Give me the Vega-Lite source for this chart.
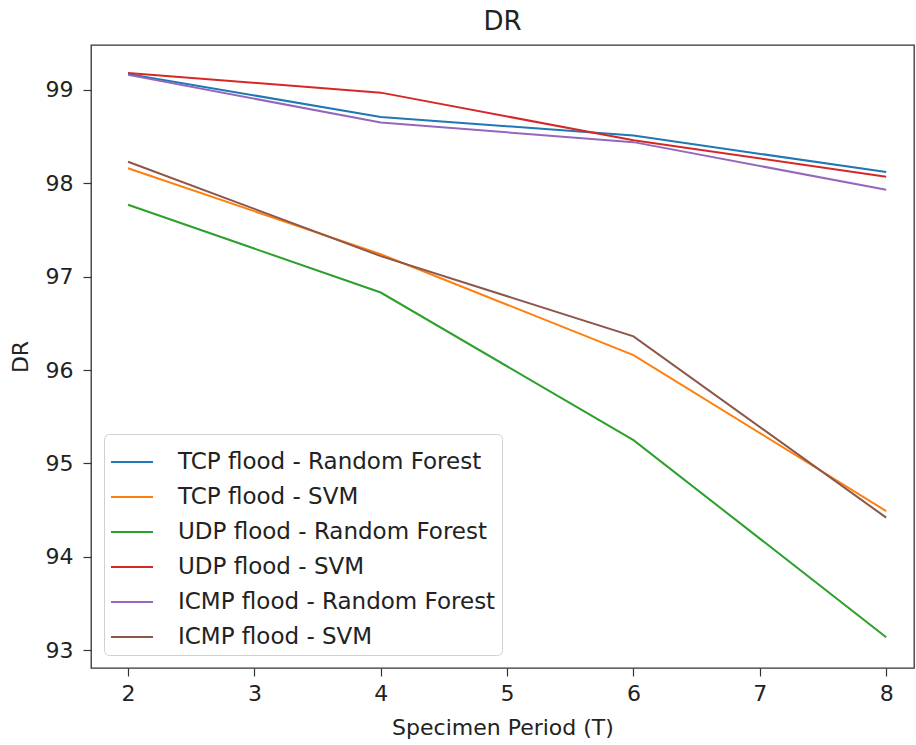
{
  "$schema": "https://vega.github.io/schema/vega-lite/v6.json",
  "width": 823,
  "height": 623,
  "autosize": "none",
  "padding": {"left": 91, "top": 45, "right": 2, "bottom": 77},
  "background": "white",
  "title": {"text": "DR", "fontSize": 26, "font": "DejaVu Sans", "fontWeight": "normal", "color": "#222", "offset": 10},
  "config": {
    "view": {"stroke": "#333", "strokeWidth": 1.3},
    "font": "DejaVu Sans",
    "axis": {"grid": false, "domain": false, "tickColor": "#333", "tickSize": 8, "tickWidth": 1.2, "labelFontSize": 22, "labelColor": "#222", "titleFontSize": 22, "titleColor": "#222", "titleFontWeight": "normal"}
  },
  "data": {"values": [
    {"T": 2, "DR": 99.17, "series": "TCP flood - Random Forest"},
    {"T": 4, "DR": 98.71, "series": "TCP flood - Random Forest"},
    {"T": 6, "DR": 98.51, "series": "TCP flood - Random Forest"},
    {"T": 8, "DR": 98.12, "series": "TCP flood - Random Forest"},
    {"T": 2, "DR": 98.16, "series": "TCP flood - SVM"},
    {"T": 4, "DR": 97.24, "series": "TCP flood - SVM"},
    {"T": 6, "DR": 96.16, "series": "TCP flood - SVM"},
    {"T": 8, "DR": 94.49, "series": "TCP flood - SVM"},
    {"T": 2, "DR": 97.77, "series": "UDP flood - Random Forest"},
    {"T": 4, "DR": 96.83, "series": "UDP flood - Random Forest"},
    {"T": 6, "DR": 95.25, "series": "UDP flood - Random Forest"},
    {"T": 8, "DR": 93.14, "series": "UDP flood - Random Forest"},
    {"T": 2, "DR": 99.18, "series": "UDP flood - SVM"},
    {"T": 4, "DR": 98.97, "series": "UDP flood - SVM"},
    {"T": 6, "DR": 98.46, "series": "UDP flood - SVM"},
    {"T": 8, "DR": 98.07, "series": "UDP flood - SVM"},
    {"T": 2, "DR": 99.16, "series": "ICMP flood - Random Forest"},
    {"T": 4, "DR": 98.65, "series": "ICMP flood - Random Forest"},
    {"T": 6, "DR": 98.44, "series": "ICMP flood - Random Forest"},
    {"T": 8, "DR": 97.93, "series": "ICMP flood - Random Forest"},
    {"T": 2, "DR": 98.23, "series": "ICMP flood - SVM"},
    {"T": 4, "DR": 97.22, "series": "ICMP flood - SVM"},
    {"T": 6, "DR": 96.36, "series": "ICMP flood - SVM"},
    {"T": 8, "DR": 94.42, "series": "ICMP flood - SVM"}
  ]},
  "mark": {"type": "line", "strokeWidth": 2},
  "encoding": {
    "x": {"field": "T", "type": "quantitative", "title": "Specimen Period (T)",
      "scale": {"domain": [1.707, 8.22], "nice": false, "zero": false},
      "axis": {"values": [2, 3, 4, 5, 6, 7, 8], "format": "d", "labelPadding": 7, "titlePadding": 13}},
    "y": {"field": "DR", "type": "quantitative", "title": "DR",
      "scale": {"domain": [92.81, 99.48], "nice": false, "zero": false},
      "axis": {"values": [93, 94, 95, 96, 97, 98, 99], "format": "d", "labelPadding": 10, "titlePadding": 13}},
    "color": {"field": "series", "type": "nominal",
      "scale": {"domain": ["TCP flood - Random Forest", "TCP flood - SVM", "UDP flood - Random Forest", "UDP flood - SVM", "ICMP flood - Random Forest", "ICMP flood - SVM"],
        "range": ["#1f77b4", "#ff7f0e", "#2ca02c", "#d62728", "#9467bd", "#8c564b"]},
      "legend": {"title": null, "orient": "bottom-left", "offset": 13, "symbolType": "stroke", "symbolSize": 1764, "symbolStrokeWidth": 2,
        "labelFontSize": 23, "labelColor": "#222", "labelLimit": 500, "rowPadding": 1, "padding": 6, "strokeColor": "#d0d0d0", "fillColor": "white", "cornerRadius": 5, "labelOffset": 24}}
  }
}
